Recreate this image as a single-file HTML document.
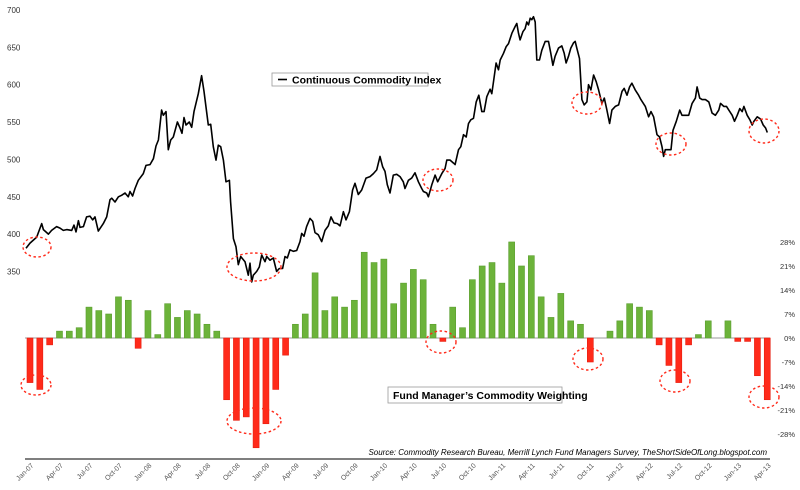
<!DOCTYPE html>
<html><head><meta charset="utf-8"><style>
body{margin:0;background:#fff;}
svg{display:block;font-family:"Liberation Sans",sans-serif;}
</style></head><body>
<svg id="chart" width="800" height="490" viewBox="0 0 800 490">
<g id="grid"></g>
<g id="bars"></g>
<path id="line" fill="none" stroke="#000" stroke-width="1.6" stroke-linejoin="round"/>
<g id="circles"></g>
<g>
<rect x="272" y="73" width="156" height="13" fill="#fff" stroke="#999" stroke-width="0.8"/>
<line x1="278" y1="79.5" x2="287" y2="79.5" stroke="#000" stroke-width="1.6"/>
<text x="292" y="83.5" font-size="10.5" font-weight="bold" fill="#000">Continuous Commodity Index</text>
</g>
<g>
<rect x="388" y="387" width="174" height="16" fill="#fff" stroke="#999" stroke-width="0.8"/>
<text x="393" y="399" font-size="10.5" font-weight="bold" fill="#000">Fund Manager’s Commodity Weighting</text>
</g>
<text x="767" y="455" text-anchor="end" font-size="8" font-style="italic" fill="#000">Source: Commodity Research Bureau, Merrill Lynch Fund Managers Survey, TheShortSideOfLong.blogspot.com</text>
</svg>
<script>
const months=["Jan","Feb","Mar","Apr","May","Jun","Jul","Aug","Sep","Oct","Nov","Dec"];
const weighting=[-13,-15,-2,2,2,3,9,8,7,12,11,-3,8,1,10,6,8,7,4,2,-18,-24,-23,-32,-25,-15,-5,4,7,19,8,12,9,11,25,22,23,10,16,20,17,4,-1,9,3,17,21,22,16,28,21,24,12,6,13,5,4,-7,0,2,5,10,9,8,-2,-8,-13,-2,1,5,0,5,-1,-1,-11,-18];
const indexT=[-0.41,0,0.68,1.19,1.36,1.87,2.2,2.71,3.05,3.39,3.73,4.24,4.48,4.68,4.92,5.09,5.43,5.76,6.1,6.38,6.61,6.95,7.46,7.8,8.14,8.31,8.65,8.99,9.32,9.66,10,10.17,10.44,10.68,11.02,11.53,11.8,12.21,12.55,12.82,13.06,13.39,13.56,13.84,14.07,14.31,14.58,14.99,15.26,15.46,15.67,15.87,16.21,16.45,16.68,17.12,17.46,17.7,18.14,18.38,18.65,18.92,19.16,19.4,19.67,19.94,20.28,20.41,20.69,20.96,21.19,21.43,21.87,22.21,22.38,22.55,22.72,23.06,23.33,23.57,23.91,24.08,24.41,24.75,25.09,25.36,25.7,25.94,26.18,26.45,26.79,27.13,27.47,27.64,27.87,28.14,28.48,28.76,28.99,29.33,29.67,30.01,30.35,30.62,30.93,31.27,31.54,31.88,32.15,32.49,32.82,33.06,33.4,33.74,34.18,34.59,34.93,35.27,35.61,35.88,36.11,36.35,36.62,36.96,37.3,37.64,37.98,38.15,38.49,38.83,39.17,39.51,39.85,40.02,40.36,40.53,40.87,41.21,41.48,41.89,42.23,42.4,42.74,43.08,43.25,43.59,43.83,44.1,44.37,44.61,44.84,45.12,45.39,45.66,45.96,46.2,46.47,46.81,46.98,47.15,47.42,47.66,47.83,48.17,48.44,48.68,49.02,49.36,49.52,49.69,49.86,50.14,50.37,50.54,50.71,50.88,51.05,51.22,51.39,51.56,51.83,52.07,52.41,52.75,52.98,53.19,53.42,53.76,54.1,54.34,54.54,54.78,55.02,55.29,55.46,55.63,55.9,56.14,56.38,56.65,56.82,57.06,57.33,57.6,57.84,58.18,58.42,58.69,58.96,59.2,59.54,59.88,60.22,60.45,60.73,61,61.23,61.57,61.91,62.15,62.59,62.93,63.17,63.44,63.78,64.05,64.29,64.46,64.63,64.97,65.21,65.41,65.75,66.09,66.33,66.67,67.01,67.35,67.69,67.86,68.13,68.37,68.71,69.05,69.39,69.73,70.07,70.24,70.58,70.85,71.09,71.43,71.67,71.94,72.21,72.45,72.62,72.96,73.23,73.47,73.64,73.98,74.32,74.59,74.83,75];
const indexV=[381,388,396,414,406,400,405,410,408,405,406,405,412,403,418,409,410,423,424,419,423,404,414,423,446,448,443,450,452,455,450,457,451,461,472,481,492,493,501,518,526,566,559,564,513,526,530,550,542,535,556,546,550,543,564,588,612,591,546,547,517,499,519,517,499,470,472,443,394,383,359,370,363,345,361,336,345,350,356,372,363,370,365,368,350,354,354,370,368,379,377,378,390,401,397,410,421,417,402,399,390,405,411,423,415,414,411,430,419,430,459,468,453,459,475,477,481,486,504,490,484,466,455,479,480,477,470,461,472,475,482,470,461,457,455,450,466,479,470,481,488,499,499,495,493,513,517,533,530,548,553,555,577,586,564,564,584,594,588,604,629,620,633,642,651,655,669,678,682,669,660,671,675,684,680,689,687,691,684,633,633,646,658,658,642,626,638,649,652,642,629,638,649,656,658,649,635,580,573,577,600,593,613,604,593,575,582,566,548,566,571,573,591,595,586,597,602,593,586,580,571,557,564,557,533,530,517,504,513,513,513,539,551,566,559,559,559,575,582,597,582,580,580,577,562,559,566,575,571,571,566,559,551,559,568,564,571,559,553,546,551,557,554,546,542,536];
const leftTicks=[350,400,450,500,550,600,650,700];
const rightTicks=[28,21,14,7,0,-7,-14,-21,-28];
const years=["07","08","09","10","11","12","13"];
const ellipses=[[37,247,14,10],[254,267,27,14],[438,180,15,11],[587,103,15,11],[671,144,15,11],[764,131,15,12],[36,385,15,10],[254,421,27,13],[441,342,15,11],[588,359,15,11],[675,381,15,11],[764,397,15,11]];

const NS="http://www.w3.org/2000/svg";
const xT=t=>30+t*9.83;
const yL=v=>10+(700-v)*0.747;
const yR=p=>338-p*3.43;
function mk(tag,attrs,parent){const e=document.createElementNS(NS,tag);for(const k in attrs)e.setAttribute(k,attrs[k]);parent.appendChild(e);return e;}
const grid=document.getElementById('grid'),bars=document.getElementById('bars'),circ=document.getElementById('circles');

leftTicks.forEach(v=>{const t=mk('text',{x:7,y:yL(v)+3,'font-size':8,fill:'#333'},grid);t.textContent=v;

});
rightTicks.forEach(p=>{const t=mk('text',{x:795,y:yR(p)+3,'font-size':7.5,fill:'#333','text-anchor':'end'},grid);t.textContent=p+'%';

});
const z=mk('line',{x1:25,x2:770,y1:yR(0),y2:yR(0),stroke:'#999','stroke-width':1},grid);


const ax=mk('line',{x1:25,x2:770,y1:459,y2:459,stroke:'#555','stroke-width':1.6},grid);


let k=0;
years.forEach(y=>{["Jan","Apr","Jul","Oct"].forEach(m=>{const mi=k*3;k++;if(mi>75)return;
const x=xT(mi)+4,yy=466;
const t=mk('text',{x:x,y:yy,'font-size':7,fill:'#555','text-anchor':'end',transform:`rotate(-45 ${x} ${yy})`},grid);t.textContent=m+'-'+y;

});});

weighting.forEach((p,i)=>{const x=xT(i)-3,y0=yR(0),y1=yR(p);
const r=mk('rect',{x:x,y:Math.min(y0,y1),width:6,height:Math.abs(y1-y0),fill:p>=0?'#6cb33a':'#ff2a1a',stroke:p>=0?'#5a9e2e':'#e51e10','stroke-width':0.6},bars);

});

document.getElementById('line').setAttribute('d',indexT.map((t,i)=>(i?'L':'M')+xT(t).toFixed(1)+','+yL(indexV[i]).toFixed(1)).join(''));

ellipses.forEach(e=>{const el=mk('ellipse',{cx:e[0],cy:e[1],rx:e[2],ry:e[3],fill:'none',stroke:'#ff2a1a','stroke-width':1.4,'stroke-dasharray':'2.5,2.5'},circ);

});
</script>
</body></html>
